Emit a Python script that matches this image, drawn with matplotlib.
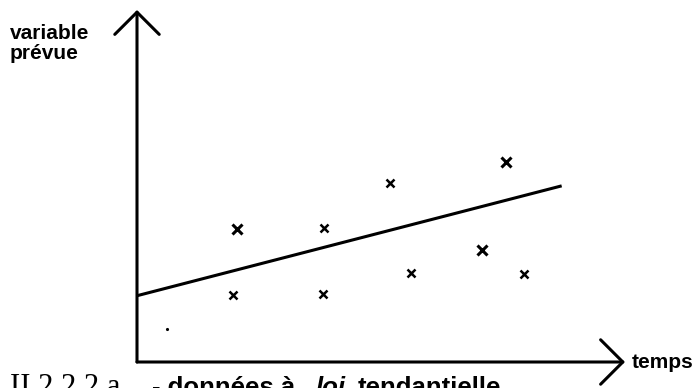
import numpy as np
import matplotlib
matplotlib.use("Agg")
import matplotlib.pyplot as plt

# observed values (time, predicted variable)
obs_t = [2.29, 2.21, 4.29, 4.27, 5.80, 6.28, 7.92, 8.46, 8.88]
obs_y = [3.05, 1.54, 3.07, 1.55, 4.10, 2.03, 2.58, 4.59, 2.02]
obs_big = [True, False, False, False, False, False, True, True, False]

# trend line end points
trend_t = [0.0, 9.74]
trend_y = [1.52, 4.04]

# stray dot from the scan
dot_t = [0.68]
dot_y = [0.76]

W, H = 696, 388
fig = plt.figure(figsize=(W / 100, H / 100), dpi=100)
fig.patch.set_facecolor("white")

# axes: origin at (137, 362) px, x-arrow tip at 625 px, y-arrow tip at 10 px
ax = fig.add_axes([137 / W, (H - 362) / H, 488 / W, 352 / H])
ax.set_xlim(0, 488 / 43.6)
ax.set_ylim(0, 352 / 43.6)
ax.axis("off")

arrow = dict(arrowstyle="->,head_length=0.8,head_width=0.8", mutation_scale=20,
             lw=2.2, color="black", shrinkA=0, shrinkB=0)
ax.annotate("", xy=(1, 0), xytext=(0, 0), xycoords="axes fraction",
            textcoords="axes fraction", arrowprops=arrow, annotation_clip=False)
ax.annotate("", xy=(0, 1), xytext=(0, 0), xycoords="axes fraction",
            textcoords="axes fraction", arrowprops=arrow, annotation_clip=False)

ax.plot(trend_t, trend_y, color="black", lw=2.2, solid_capstyle="butt")

for t, y, big in zip(obs_t, obs_y, obs_big):
    ax.plot(t, y, marker="x", color="black", ms=7.5 if big else 5.5,
            mew=2.2 if big else 1.8, linestyle="none")

ax.plot(dot_t, dot_y, marker=".", color="black", ms=2.5, linestyle="none")

sans = "Liberation Sans"
fig.text(10 / W, 1 - 24 / H, "variable\nprévue", fontsize=15, family=sans,
         weight="bold", va="top", ha="left", linespacing=1.05)
fig.text(632 / W, 1 - 362 / H, "temps", fontsize=15, family=sans,
         weight="bold", va="center", ha="left")

# caption, cut off by the bottom edge as in the scan
base = 1 - 395 / H
fig.text(10 / W, base, "II.2.2.2 a", fontsize=22, family="Liberation Serif",
         va="baseline", ha="left")
fig.text(152 / W, base, "- données à", fontsize=18.5, family=sans, weight="bold",
         va="baseline", ha="left")
fig.text(316 / W, base, "loi", fontsize=18.5, family=sans, weight="bold",
         style="italic", va="baseline", ha="left")
fig.text(358 / W, base, "tendantielle", fontsize=18.5, family=sans, weight="bold",
         va="baseline", ha="left")

fig.savefig("out.png", dpi=100, facecolor="white")
